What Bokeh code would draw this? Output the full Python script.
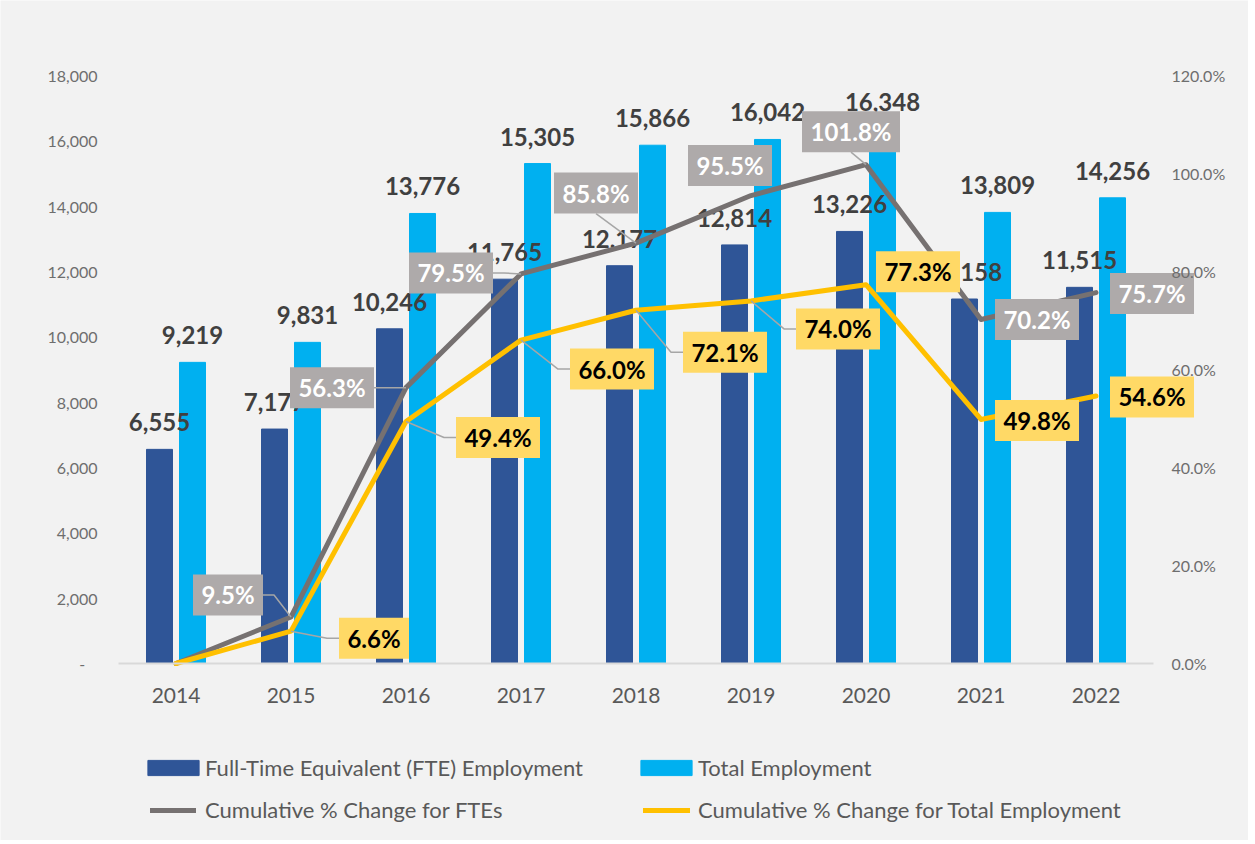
import numpy as np
from bokeh.plotting import figure
from bokeh.models import (Range1d, LinearAxis, FixedTicker, NumeralTickFormatter,
                          ColumnDataSource, Legend, LegendItem)
from bokeh.transform import dodge
from bokeh.embed import file_html
from bokeh.resources import INLINE
from bokeh.core.properties import value

# ---------------- data ----------------
years = ["2014", "2015", "2016", "2017", "2018", "2019", "2020", "2021", "2022"]
fte = [6555, 7177, 10246, 11765, 12177, 12814, 13226, 11158, 11515]
total = [9219, 9831, 13776, 15305, 15866, 16042, 16348, 13809, 14256]
fte_pct = [0.0, 9.5, 56.3, 79.5, 85.8, 95.5, 101.8, 70.2, 75.7]
total_pct = [0.0, 6.6, 49.4, 66.0, 72.1, 74.0, 77.3, 49.8, 54.6]
left_ticks = [0, 2000, 4000, 6000, 8000, 10000, 12000, 14000, 16000, 18000]
right_ticks = [0, 20, 40, 60, 80, 100, 120]
LMAX, RMAX = 18000, 120

# ---------------- layout (pixels) ----------------
W, H = 1248, 840            # canvas
LEFT, RIGHT = 118, 1153     # plot area x extent
TOP, BASE = 75, 663         # plot area y extent (top of scale, zero line)

# label box offsets in screen px relative to the data point (y down)
fte_dx = [None, -63, -74, -70, -40, -21, -15, 56, 56]
fte_dy = [None, -22, 0, -1, -50, -30, -33, 0, 1]
tot_dx = [None, 83, 92, 91, 89, 87, 52, 56, 56]
tot_dy = [None, 7, 16, 29, 42, 28, -13, 1, 1]

n = len(years)
PXX = (RIGHT - LEFT) / n
PXL = (BASE - TOP) / LMAX
PXY = (BASE - TOP) / RMAX
BOX_H = 41
FONT = "Lato"

C_FTE = "#2f5597"
C_TOT = "#00b0f0"
C_LFTE = "#767171"
C_LTOT = "#ffc000"

xs = np.arange(n)
src = ColumnDataSource(dict(
    x=xs, fte=fte, total=total, fte_pct=fte_pct, total_pct=total_pct,
    fte_lbl=[f"{v:,}" for v in fte], tot_lbl=[f"{v:,}" for v in total],
))

x_range = Range1d(-0.5 - LEFT / PXX, n - 0.5 + (W - RIGHT) / PXX)
y_range = Range1d(-(H - BASE) / PXL, LMAX + TOP / PXL)

p = figure(frame_width=W, frame_height=H, x_range=x_range, y_range=y_range,
           output_backend="svg", toolbar_location=None,
           min_border=0, min_border_left=0, min_border_right=0,
           min_border_top=0, min_border_bottom=0,
           background_fill_color="#f2f2f2", border_fill_color="#f2f2f2",
           outline_line_color=None)
p.extra_y_ranges = {"pct": Range1d(-(H - BASE) / PXY, RMAX + TOP / PXY)}
p.xgrid.visible = False
p.ygrid.visible = False

def style_axis(ax, size, color, standoff):
    ax.major_tick_line_color = None
    ax.minor_tick_line_color = None
    ax.major_tick_out = 0
    ax.major_tick_in = 0
    ax.minor_tick_out = 0
    ax.major_label_standoff = standoff
    ax.major_label_text_font = FONT
    ax.major_label_text_font_size = size
    ax.major_label_text_color = color

# x axis, drawn at the zero line
xa = p.xaxis[0]
xa.fixed_location = 0
xa.bounds = (-0.5, n - 0.5)
xa.ticker = FixedTicker(ticks=list(xs))
xa.major_label_overrides = {int(i): y for i, y in zip(xs, years)}
xa.axis_line_color = "#d9d9d9"
xa.axis_line_width = 2
style_axis(xa, "21px", "#595959", 24)

# left axis
ya = p.yaxis[0]
ya.fixed_location = -0.5
ya.bounds = (0, LMAX)
ya.ticker = FixedTicker(ticks=left_ticks)
ya.formatter = NumeralTickFormatter(format="0,0")
ya.major_label_overrides = {0: "-\u00a0\u00a0\u00a0"}
ya.axis_line_color = None
style_axis(ya, "16px", "#6e6e6e", 21)

# right axis
ra = LinearAxis(y_range_name="pct", ticker=FixedTicker(ticks=right_ticks),
                fixed_location=n - 0.5, bounds=(0, RMAX))
ra.major_label_overrides = {t: f"{t:.1f}%" for t in right_ticks}
ra.axis_line_color = None
style_axis(ra, "16px", "#6e6e6e", 18)
p.add_layout(ra, "right")

# bars
BW = 26 / PXX
OFF = 16.5 / PXX
r_fte = p.vbar(x=dodge("x", -OFF), top="fte", width=BW, source=src,
               fill_color=C_FTE, line_color=C_FTE)
r_tot = p.vbar(x=dodge("x", OFF), top="total", width=BW, source=src,
               fill_color=C_TOT, line_color=C_TOT)

# bar value labels
for col, lbl, off in (("fte", "fte_lbl", -OFF), ("total", "tot_lbl", OFF)):
    p.text(x=dodge("x", off), y=col, text=lbl, source=src,
           text_align="center", text_baseline="middle", y_offset=-27,
           text_font=value(FONT), text_font_style="bold",
           text_font_size="24px", text_color="#404040")

# lines
r_lf = p.line("x", "fte_pct", source=src, y_range_name="pct",
              line_color=C_LFTE, line_width=5, line_join="round", line_cap="round")
r_lt = p.line("x", "total_pct", source=src, y_range_name="pct",
              line_color=C_LTOT, line_width=5, line_join="round", line_cap="round")

# percentage callouts
def callouts(pcts, dxs, dys):
    bx, by, bw, txt, lx, ly = [], [], [], [], [], []
    for i, (v, dx, dy) in enumerate(zip(pcts, dxs, dys)):
        if dx is None:
            continue
        t = f"{v:.1f}%"
        w = 14 * len(t) + 14
        hw, hh = w / 2, BOX_H / 2
        bx.append(xs[i] + dx / PXX)
        by.append(v - dy / PXY)
        bw.append(w)
        txt.append(t)
        pts = None
        if dy + hh < -10 and abs(dx) < hw + 10:
            pts = [(dx, dy + hh), (0, 0)]
        elif dx > 0:
            edge = dx - hw
            if edge > 20:
                pts = [(0, 0), (edge - 12, dy), (edge, dy)]
        else:
            edge = dx + hw
            if -edge > 20:
                pts = [(0, 0), (edge + 11, dy), (edge, dy)]
        if pts:
            lx.append([xs[i] + a / PXX for a, b in pts])
            ly.append([v - b / PXY for a, b in pts])
    return (ColumnDataSource(dict(x=bx, y=by, w=bw, t=txt)),
            ColumnDataSource(dict(xs=lx, ys=ly)))

box_f, lead_f = callouts(fte_pct, fte_dx, fte_dy)
box_t, lead_t = callouts(total_pct, tot_dx, tot_dy)

for lead in (lead_f, lead_t):
    p.multi_line(xs="xs", ys="ys", source=lead, y_range_name="pct",
                 line_color="#a6a6a6", line_width=1.5)

for box, fill, tc in ((box_f, "#aeaaaa", "#ffffff"), (box_t, "#ffd966", "#000000")):
    p.rect(x="x", y="y", width="w", height=BOX_H, width_units="screen",
           height_units="screen", source=box, y_range_name="pct",
           fill_color=fill, line_color=None)
    p.text(x="x", y="y", text="t", source=box, y_range_name="pct",
           text_align="center", text_baseline="middle",
           text_font=value(FONT), text_font_style="bold",
           text_font_size="24px", text_color=tc)

# legends (one per entry; location in px from the canvas' bottom-left)
def add_legend(label, rend, x, y, gw, gh, standoff):
    lg = Legend(items=[LegendItem(label=label, renderers=[rend])],
                location=(x, y), orientation="vertical",
                glyph_width=gw, glyph_height=gh, label_height=gh,
                label_standoff=standoff, padding=0, margin=0, spacing=0,
                border_line_color=None, background_fill_alpha=0,
                label_text_font=FONT, label_text_font_size="22px",
                label_text_color="#595959")
    p.add_layout(lg)

add_legend("Full-Time Equivalent (FTE) Employment", r_fte, 141, 59, 64, 19, 0)
add_legend("Total Employment", r_tot, 634, 59, 64, 19, 0)
add_legend("Cumulative % Change for FTEs", r_lf, 150, 17, 46, 26, 9)
add_legend("Cumulative % Change for Total Employment", r_lt, 643, 17, 47, 26, 8)

open("out.html", "w").write(file_html(p, INLINE))
